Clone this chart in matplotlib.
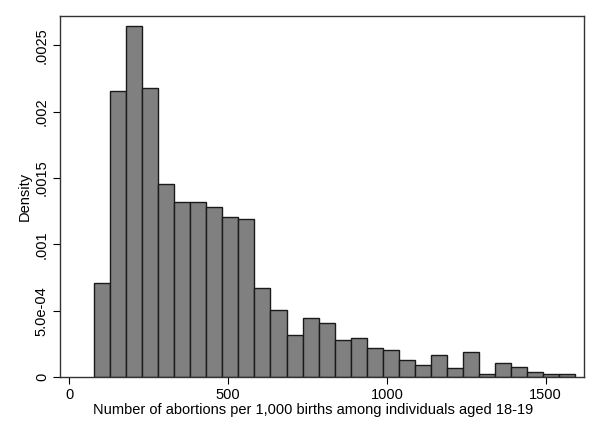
import numpy as np
import matplotlib
matplotlib.use('Agg')
import matplotlib.pyplot as plt

# histogram: first bin start, bin width, densities
bin_start = 78.5
bin_width = 50.45
density = [0.000706, 0.002159, 0.002647, 0.002179, 0.001453, 0.001320,
           0.001320, 0.001284, 0.001209, 0.001189, 0.000669, 0.000503,
           0.000314, 0.000443, 0.000407, 0.000277, 0.000296, 0.000221,
           0.000201, 0.000128, 0.000088, 0.000168, 0.000070, 0.000186,
           0.000020, 0.000108, 0.000073, 0.000038, 0.000020, 0.000020]

x_ticks = [0, 500, 1000, 1500]
y_ticks = [0, 0.0005, 0.001, 0.0015, 0.002, 0.0025]
y_tick_labels = ['0', '5.0e-04', '.001', '.0015', '.002', '.0025']

plt.rcParams['font.family'] = ['Liberation Sans', 'DejaVu Sans']

fig = plt.figure(figsize=(6, 4.36), dpi=100)
ax = fig.add_axes([0.1, 0.1353, 0.8733, 0.828])

lefts = bin_start + bin_width * np.arange(len(density))
ax.bar(lefts, density, width=bin_width, align='edge',
       color='#808080', edgecolor='#1a1a1a', linewidth=1.0)

ax.set_xlim(-29.3, 1620.6)
ax.set_ylim(0, 0.002722)
ax.set_xticks(x_ticks)
ax.set_yticks(y_ticks)
ax.set_yticklabels(y_tick_labels, rotation=90, va='center')
ax.tick_params(direction='out', length=5, width=0.8, labelsize=10.5,
               colors='#000000', pad=3)

for s in ax.spines.values():
    s.set_color('#333333')
    s.set_linewidth(1.0)

ax.set_xlabel('Number of abortions per 1,000 births among individuals aged 18-19',
              fontsize=10.5, labelpad=0)
ax.xaxis.set_label_coords(0.484, -0.072, transform=ax.transAxes)
ax.xaxis.label.set_va('top')
ax.set_ylabel('Density', fontsize=10.5, labelpad=2)

fig.savefig('out.png', dpi=100)
